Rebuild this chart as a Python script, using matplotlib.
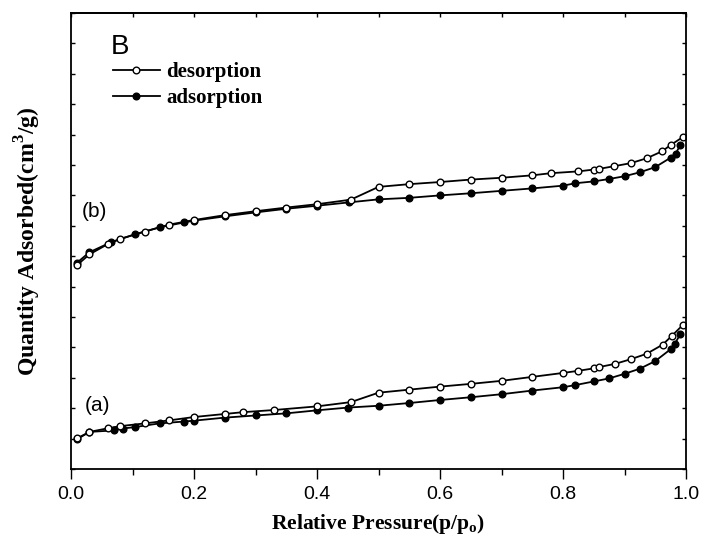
import matplotlib
matplotlib.use("Agg")
import matplotlib.pyplot as plt
from matplotlib.ticker import MultipleLocator, NullFormatter

plt.rcParams['mathtext.fontset'] = 'custom'
plt.rcParams['mathtext.rm'] = 'Liberation Serif:bold'
plt.rcParams['mathtext.bf'] = 'Liberation Serif:bold'

# sample (a)
a_des_p = [0.01, 0.03, 0.06, 0.08, 0.12, 0.16, 0.2, 0.25, 0.28, 0.33, 0.4, 0.455,
           0.5, 0.55, 0.6, 0.65, 0.7, 0.75, 0.8, 0.825, 0.85, 0.858, 0.885, 0.91,
           0.936, 0.962, 0.977, 0.995]
a_des_q = [1.01, 1.22, 1.34, 1.41, 1.50, 1.60, 1.71, 1.81, 1.87, 1.94, 2.06, 2.20,
           2.51, 2.61, 2.71, 2.80, 2.90, 3.03, 3.16, 3.23, 3.31, 3.35, 3.46, 3.61,
           3.79, 4.09, 4.38, 4.74]
a_ads_p = [0.01, 0.03, 0.07, 0.084, 0.104, 0.144, 0.183, 0.2, 0.25, 0.3, 0.35, 0.4,
           0.45, 0.5, 0.55, 0.6, 0.65, 0.7, 0.75, 0.8, 0.82, 0.85, 0.875, 0.9,
           0.925, 0.95, 0.975, 0.982, 0.991]
a_ads_q = [0.98, 1.22, 1.27, 1.33, 1.38, 1.50, 1.56, 1.59, 1.69, 1.76, 1.83, 1.93,
           2.02, 2.08, 2.17, 2.27, 2.36, 2.46, 2.58, 2.69, 2.76, 2.88, 2.98, 3.13,
           3.30, 3.55, 3.94, 4.12, 4.45]

# sample (b)
b_des_p = [0.01, 0.03, 0.06, 0.08, 0.12, 0.16, 0.2, 0.25, 0.3, 0.35, 0.4, 0.455,
           0.5, 0.55, 0.6, 0.65, 0.7, 0.75, 0.78, 0.825, 0.85, 0.858, 0.883, 0.91,
           0.936, 0.961, 0.976, 0.995]
b_des_q = [6.71, 7.06, 7.40, 7.57, 7.81, 8.04, 8.19, 8.35, 8.48, 8.60, 8.71, 8.86,
           9.28, 9.37, 9.44, 9.52, 9.58, 9.66, 9.73, 9.79, 9.85, 9.87, 9.96, 10.06,
           10.22, 10.45, 10.67, 10.92]
b_ads_p = [0.01, 0.03, 0.065, 0.104, 0.144, 0.184, 0.2, 0.25, 0.3, 0.35, 0.4, 0.452,
           0.5, 0.55, 0.6, 0.65, 0.7, 0.75, 0.8, 0.82, 0.85, 0.875, 0.9, 0.925,
           0.95, 0.975, 0.983, 0.991]
b_ads_q = [6.79, 7.13, 7.46, 7.72, 7.95, 8.11, 8.17, 8.31, 8.44, 8.56, 8.66, 8.77,
           8.87, 8.92, 9.00, 9.07, 9.15, 9.23, 9.32, 9.40, 9.46, 9.54, 9.63, 9.76,
           9.93, 10.24, 10.37, 10.66]

fig = plt.figure(figsize=(7.02, 5.41), dpi=100)
ax = fig.add_axes([71 / 702, (541 - 469) / 541, 615 / 702, 456 / 541])

des_style = dict(color='black', lw=1.3, marker='o', ms=4.8, mfc='white', mec='black', mew=1)
ads_style = dict(color='black', lw=1.3, marker='o', ms=4.8, mfc='black', mec='black', mew=1)

ax.plot(b_ads_p, b_ads_q, **ads_style)
ax.plot(b_des_p, b_des_q, **des_style)
ax.plot(a_ads_p, a_ads_q, label='adsorption', **ads_style)
ax.plot(a_des_p, a_des_q, label='desorption', **des_style)

ax.set_xlim(0, 1.0)
ax.set_ylim(0, 15)
ax.xaxis.set_major_locator(MultipleLocator(0.2))
ax.xaxis.set_minor_locator(MultipleLocator(0.1))
ax.yaxis.set_major_locator(MultipleLocator(1))
ax.yaxis.set_major_formatter(NullFormatter())
ax.tick_params(axis='x', which='both', direction='out', top=False, labelsize=14, pad=5)
ax.tick_params(axis='x', which='major', length=7, width=1)
ax.tick_params(axis='x', which='minor', length=4, width=1)
ax.tick_params(axis='y', which='major', direction='in', length=3, width=1, right=True)
for lab in ax.get_xticklabels():
    lab.set_fontfamily('Liberation Sans')
for s in ax.spines.values():
    s.set_linewidth(1.3)

# small inward ticks along the top frame
top = ax.secondary_xaxis('top')
top.xaxis.set_major_locator(MultipleLocator(0.1))
top.xaxis.set_major_formatter(NullFormatter())
top.tick_params(direction='in', length=3, width=1)
top.spines['top'].set_linewidth(1.3)

ax.set_xlabel(r'Relative Pressure(p/p$_\mathbf{o}$)', fontfamily='Liberation Serif',
              fontweight='bold', fontsize=15.5, va='top')
ax.xaxis.set_label_coords(0.5, -0.094)
ax.set_ylabel(r'Quantity Adsorbed(cm$^\mathbf{3}$/g)', fontfamily='Liberation Serif',
              fontweight='bold', fontsize=17)
ax.yaxis.set_label_coords(-0.045, 0.5)

ax.text(0.064, 0.953, 'B', transform=ax.transAxes, fontfamily='Liberation Sans',
        fontsize=20, va='top', ha='left')
ax.text(0.018, 0.564, '(b)', transform=ax.transAxes, fontfamily='Liberation Sans',
        fontsize=15, va='center', ha='left')
ax.text(0.022, 0.14, '(a)', transform=ax.transAxes, fontfamily='Liberation Sans',
        fontsize=15, va='center', ha='left')

h, l = ax.get_legend_handles_labels()
ax.legend([h[1], h[0]], [l[1], l[0]], loc='upper left', bbox_to_anchor=(0.068, 0.892),
          frameon=False, handlelength=2.25, handletextpad=0.3, labelspacing=0.3,
          borderaxespad=0, borderpad=0,
          prop={'family': 'Liberation Serif', 'weight': 'bold', 'size': 15})

fig.savefig('out.png', dpi=100)
